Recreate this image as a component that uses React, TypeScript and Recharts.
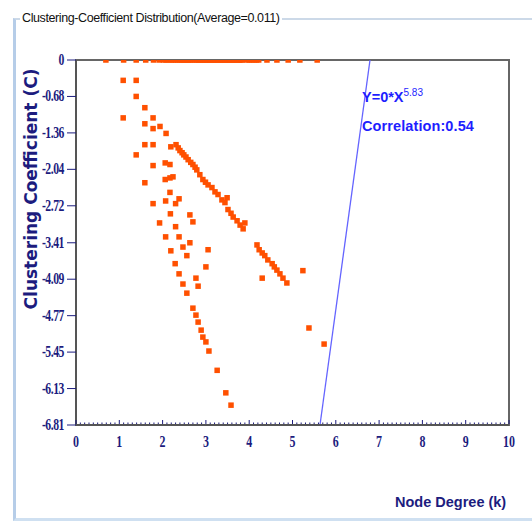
import React from 'react';
import { ScatterChart, Scatter, XAxis, YAxis, ReferenceArea, ReferenceLine } from 'recharts';

// x = node degree (log scale value), y = clustering coefficient (log scale value)
const topRowK = [0.69, 1.10, 1.39, 1.61, 1.79, 1.92, 2.02, 2.08, 2.14, 2.20, 2.25, 2.30, 2.35, 2.40, 2.44, 2.48, 2.52, 2.56, 2.60, 2.64, 2.68, 2.75, 2.79, 2.83, 2.87, 2.91, 2.94, 2.98, 3.02, 3.05, 3.09, 3.13, 3.17, 3.21, 3.25, 3.29, 3.33, 3.37, 3.41, 3.45, 3.49, 3.53, 3.57, 3.61, 3.65, 3.69, 3.73, 3.77, 3.81, 3.84, 3.95, 4.00, 4.06, 4.11, 4.17, 4.22, 4.41, 4.64, 4.90, 5.17, 5.57];

const upperBranch = [
  [1.09, -0.38], [1.39, -0.38], [1.39, -0.68], [1.59, -0.89], [1.78, -1.08], [1.94, -1.24], [2.08, -1.37],
  [2.19, -1.62], [2.31, -1.58], [2.36, -1.64], [2.40, -1.69], [2.45, -1.73], [2.49, -1.77], [2.54, -1.81],
  [2.59, -1.86], [2.65, -1.91], [2.70, -1.95], [2.75, -2.00], [2.79, -2.05], [2.86, -2.14], [2.93, -2.23],
  [2.99, -2.28], [3.05, -2.33], [3.14, -2.38], [3.21, -2.46], [3.28, -2.51], [3.37, -2.61], [3.44, -2.66],
  [3.49, -2.57], [3.51, -2.79], [3.58, -2.86], [3.63, -2.93], [3.72, -3.00], [3.79, -3.08], [3.86, -3.15],
  [3.90, -3.04], [4.18, -3.45], [4.23, -3.54], [4.30, -3.60], [4.36, -3.65], [4.43, -3.73], [4.53, -3.80],
  [4.58, -3.86], [4.64, -3.92], [4.71, -3.99], [4.78, -4.07], [4.87, -4.16],
];

const middleCluster = [
  [1.09, -1.08], [1.59, -1.19], [1.78, -1.28], [1.59, -1.58], [1.78, -1.58], [1.39, -1.77], [1.78, -1.97],
  [2.06, -1.92], [2.17, -1.95], [2.06, -2.23], [2.17, -2.20], [2.24, -2.18], [1.59, -2.29], [2.17, -2.47],
  [1.78, -2.68], [2.07, -2.63], [2.30, -2.68], [2.38, -2.59], [2.18, -2.87], [2.63, -2.89], [2.70, -3.02],
  [1.93, -3.04], [2.30, -3.11], [2.38, -3.30], [2.07, -3.30], [2.63, -3.41], [2.47, -3.49], [2.19, -3.56],
  [2.56, -3.65], [3.05, -3.54], [2.29, -3.80], [3.00, -3.86], [2.38, -3.99], [2.77, -4.07], [2.47, -4.18],
  [2.82, -4.22], [2.56, -4.35],
];

const lowerBranch = [
  [2.70, -4.63], [2.77, -4.76], [2.82, -4.89], [2.89, -5.04], [2.93, -5.17], [3.00, -5.26], [3.07, -5.43],
  [3.26, -5.79], [3.46, -6.21], [3.58, -6.44],
];

const outliers = [[4.30, -4.07], [5.24, -3.93], [5.38, -5.00], [5.73, -5.30]];

const fitLine = [{ x: 5.635, y: -6.81 }, { x: 6.79, y: 0 }];

const xMajorTicks = [0, 1, 2, 3, 4, 5, 6, 7, 8, 9, 10];
const yTicks = [0, -0.68, -1.36, -2.04, -2.72, -3.41, -4.09, -4.77, -5.45, -6.13, -6.81];

const xAllTicks: number[] = [];
xMajorTicks.forEach((m, i) => {
  if (i < xMajorTicks.length - 1) {
    for (let j = 0; j < 10; j++) xAllTicks.push(Math.round((m + j / 10) * 10) / 10);
  } else xAllTicks.push(m);
});

const toPts = (arr: number[][]) => arr.map(([x, y]) => ({ x, y }));
const allPoints = [
  ...topRowK.map((x) => ({ x, y: 0 })),
  ...toPts(upperBranch),
  ...toPts(middleCluster),
  ...toPts(lowerBranch),
  ...toPts(outliers),
];

const NAVY = '#1c1c7e';
const DOT = '#ff5000';

const XTick = (props: any) => {
  const { x, y, payload } = props;
  const v = payload.value;
  const major = Math.abs(v - Math.round(v)) < 1e-6;
  return (
    <g>
      <line x1={x} y1={y - 1} x2={x} y2={y - (major ? 5 : 2.5)} stroke={NAVY} strokeWidth={1} />
      {major && (
        <text transform={`translate(${x},${y + 22}) scale(0.92,1.25)`} textAnchor="middle" fontFamily="Liberation Serif" fontWeight="bold" fontSize={13} fill={NAVY}>
          {v}
        </text>
      )}
    </g>
  );
};

const YTick = (props: any) => {
  const { x, y, payload } = props;
  return (
    <g>
      <line x1={x - 9} y1={y} x2={x} y2={y} stroke={NAVY} strokeWidth={1} />
      <text transform={`translate(${x - 12},${y + 5}) scale(0.9,1.25)`} textAnchor="end" fontFamily="Liberation Serif" fontWeight="bold" fontSize={13} fill={NAVY} letterSpacing={-0.5}>
        {String(payload.value)}
      </text>
    </g>
  );
};

const Square = (props: any) => {
  const { cx, cy } = props;
  return <rect x={cx - 2.75} y={cy - 2.75} width={5.5} height={5.5} fill={DOT} />;
};

export default function App() {
  return (
    <div style={{ position: 'absolute', left: 0, top: 0, width: 532, height: 521, overflow: 'hidden', background: '#fff' }}>
      <div
        style={{
          position: 'absolute', left: 13, top: 18, width: 560, height: 498,
          borderLeft: '3px solid #b6cde8', borderTop: '2px solid #ccd9e8', borderBottom: '3px solid #cfe0f1',
        }}
      />
      <div
        style={{
          position: 'absolute', left: 20, top: 11, background: '#fff', padding: '0 2px',
          fontFamily: 'Liberation Sans', fontSize: 12.5, color: '#111', letterSpacing: -0.4, whiteSpace: 'nowrap',
        }}
      >
        Clustering-Coefficient Distribution(Average=0.011)
      </div>
      <div style={{ position: 'absolute', left: 0, top: 0 }}>
        <ScatterChart width={532} height={521} margin={{ top: 60, right: 23, left: 20, bottom: 66 }}>
          <XAxis
            type="number" dataKey="x" domain={[0, 10]} ticks={xAllTicks} interval={0}
            tick={<XTick />} tickLine={false} tickSize={0} tickMargin={0} height={30}
            axisLine={{ stroke: '#555', strokeWidth: 2 }} allowDataOverflow
          />
          <YAxis
            type="number" dataKey="y" domain={[-6.81, 0]} ticks={yTicks} interval={0}
            tick={<YTick />} tickLine={false} tickSize={0} tickMargin={0} width={56}
            axisLine={{ stroke: '#555', strokeWidth: 2 }} allowDataOverflow
          />
          <ReferenceArea x1={0} x2={10} y1={-6.81} y2={0} fill="none" stroke="#666" strokeWidth={2} ifOverflow="visible" />
          <Scatter data={allPoints} shape={<Square />} isAnimationActive={false} />
          <ReferenceLine segment={fitLine} stroke="#6464ff" strokeWidth={1.3} ifOverflow="visible" />
        </ScatterChart>
      </div>
      <div
        style={{
          position: 'absolute', left: 31, top: 189, transform: 'translate(-50%, -50%) rotate(-90deg)',
          fontFamily: 'DejaVu Sans', fontWeight: 'bold', fontSize: 17, color: NAVY, whiteSpace: 'nowrap',
        }}
      >
        Clustering Coefficient (C)
      </div>
      <div
        style={{
          position: 'absolute', left: 395, top: 494, fontFamily: 'Liberation Sans', fontWeight: 'bold',
          fontSize: 14.5, color: NAVY, whiteSpace: 'nowrap',
        }}
      >
        Node Degree (k)
      </div>
      <div
        style={{
          position: 'absolute', left: 362, top: 88, fontFamily: 'Liberation Sans', fontWeight: 'bold',
          fontSize: 14.5, color: '#1e1eff', whiteSpace: 'nowrap', lineHeight: '18px',
        }}
      >
        Y=0*X<span style={{ fontSize: 10, fontWeight: 'normal', verticalAlign: 'top', position: 'relative', top: -4 }}>5.83</span>
      </div>
      <div
        style={{
          position: 'absolute', left: 362, top: 118, fontFamily: 'Liberation Sans', fontWeight: 'bold',
          fontSize: 14.5, color: '#1e1eff', whiteSpace: 'nowrap', letterSpacing: 0.1,
        }}
      >
        Correlation:0.54
      </div>
    </div>
  );
}
